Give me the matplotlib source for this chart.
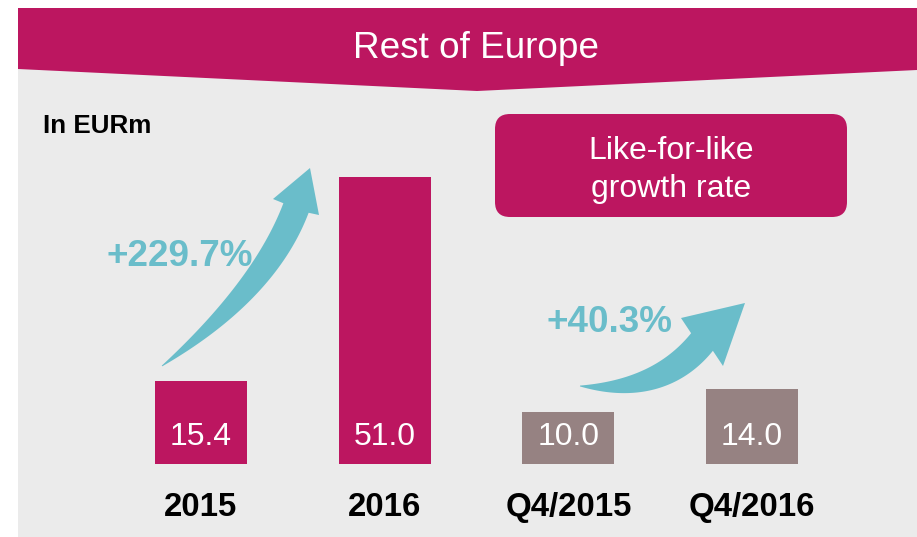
import matplotlib
matplotlib.use('Agg')
import matplotlib.pyplot as plt
import numpy as np
from matplotlib.patches import Polygon, FancyBboxPatch, Rectangle

# ---- data ----
categories = ['2015', '2016', 'Q4/2015', 'Q4/2016']
values = [15.4, 51.0, 10.0, 14.0]
value_labels = ['15.4', '51.0', '10.0', '14.0']
growth_labels = ['+229.7%', '+40.3%']
title = 'Rest of Europe'
unit_label = 'In EURm'
box_lines = ['Like-for-like', 'growth rate']

MAG = '#BC1660'
TAUPE = '#968282'
TEAL = '#6ABDCA'
BG = '#EBEBEB'
bar_colors = [MAG, MAG, TAUPE, TAUPE]

plt.rcParams['font.family'] = ['Liberation Sans', 'DejaVu Sans']

W, H = 917, 537
fig = plt.figure(figsize=(W / 100, H / 100), dpi=100, facecolor='white')

# decoration layer in pixel coordinates
deco = fig.add_axes([0, 0, 1, 1], zorder=0)
deco.set_xlim(0, W)
deco.set_ylim(H, 0)
deco.axis('off')
deco.add_patch(Rectangle((18, 8), W - 18, H - 8, color=BG, lw=0))
deco.add_patch(Polygon([(18, 8), (W, 8), (W, 70), (477, 91), (18, 69)],
                       closed=True, color=MAG, lw=0))
deco.text(476, 58, title, color='white', fontsize=26.6, ha='center', va='baseline')
deco.text(43, 133, unit_label, color='black', fontsize=18.7, fontweight='bold',
          ha='left', va='baseline')

# like-for-like box
deco.add_patch(FancyBboxPatch((495 + 15, 114 + 15), 352 - 30, 103 - 30,
                              boxstyle='round,pad=15', color=MAG, lw=0))
deco.text(671, 159, box_lines[0], color='white', fontsize=23, ha='center', va='baseline')
deco.text(671, 197, box_lines[1], color='white', fontsize=23, ha='center', va='baseline')


def curved_arrow(ax, p0, p1, p2, wmax, wings, tip, color):
    t = np.linspace(0, 1, 100)
    P0, P1, P2 = map(np.array, (p0, p1, p2))
    pts = ((1 - t) ** 2)[:, None] * P0 + (2 * (1 - t) * t)[:, None] * P1 + (t ** 2)[:, None] * P2
    d = (2 * (1 - t))[:, None] * (P1 - P0) + (2 * t)[:, None] * (P2 - P1)
    d = d / np.linalg.norm(d, axis=1)[:, None]
    n = np.stack([-d[:, 1], d[:, 0]], axis=1)
    w = wmax * (0.03 + 0.97 * (1 - (1 - t) ** 2.2))
    left = pts + n * w[:, None]
    right = pts - n * w[:, None]
    wa, wb = np.array(wings[0]), np.array(wings[1])
    if np.dot(wa - P2, n[-1]) < 0:
        wa, wb = wb, wa
    poly = np.vstack([left, [wa, tip, wb], right[::-1]])
    ax.add_patch(Polygon(poly, closed=True, color=color, lw=0))


curved_arrow(deco, (162, 366), (265, 290), (296, 208), 13.5,
             [(273, 199), (319, 215)], (310, 168), TEAL)
curved_arrow(deco, (580, 386), (660, 394), (702, 342), 14,
             [(681, 318), (723, 366)], (745, 303), TEAL)

deco.text(106, 266, growth_labels[0], color=TEAL, fontsize=26.6, fontweight='bold',
          ha='left', va='baseline')
deco.text(546, 332, growth_labels[1], color=TEAL, fontsize=26.6, fontweight='bold',
          ha='left', va='baseline')

# bars
ax = fig.add_axes([109 / W, (H - 464) / H, 735 / W, 344 / H], zorder=1)
ax.set_facecolor('none')
x = np.arange(len(categories))
ax.bar(x, values, width=0.5, color=bar_colors, lw=0)
ymin = 0.9
ax.set_xlim(-0.5, 3.5)
ax.set_ylim(ymin, 60.9)
for s in ax.spines.values():
    s.set_visible(False)
ax.set_yticks([])
ax.set_xticks(x)
ax.set_xticklabels(categories, fontsize=23.8, fontweight='bold', color='black')
ax.tick_params(axis='x', length=0, pad=20)
for xi, lab in zip(x, value_labels):
    ax.annotate(lab, xy=(xi, ymin), xytext=(0, 19 * 0.72), textcoords='offset points',
                ha='center', va='baseline', color='white', fontsize=23)

fig.savefig('out.png', dpi=100, facecolor='white')
